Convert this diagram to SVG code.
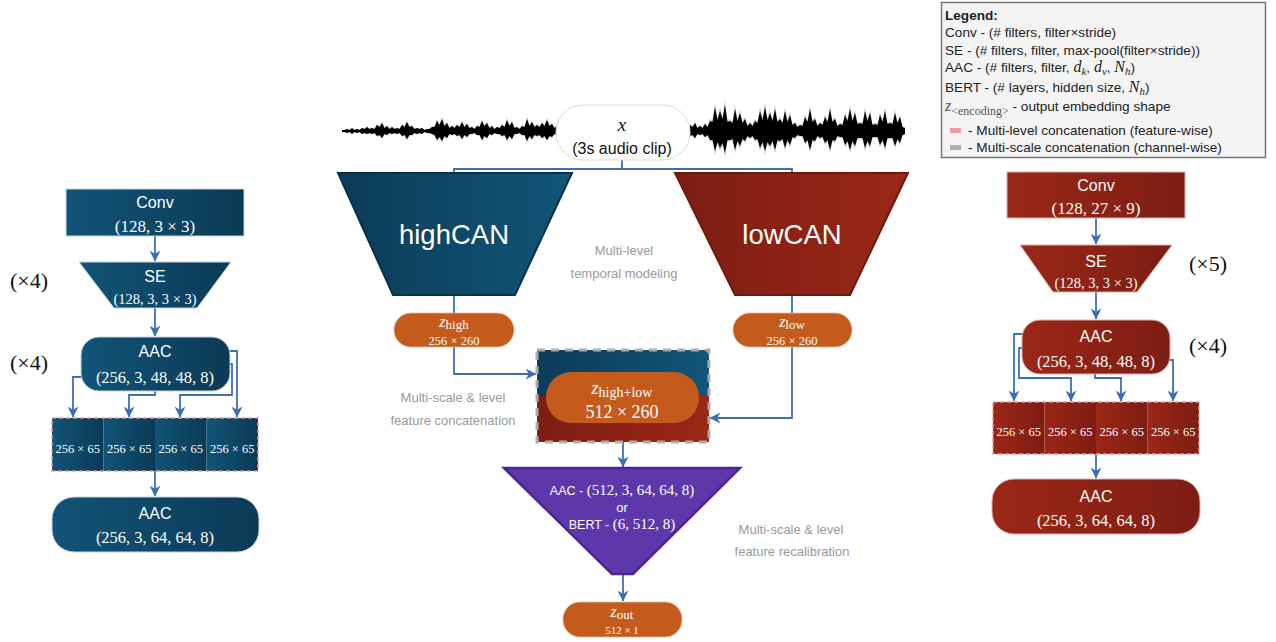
<svg xmlns="http://www.w3.org/2000/svg" width="1276" height="642" viewBox="0 0 1276 642">
<defs>
<linearGradient id="gBlue" x1="0" y1="0" x2="1" y2="0"><stop offset="0" stop-color="#115478"/><stop offset="1" stop-color="#0b3a55"/></linearGradient>
<linearGradient id="gBlueR" x1="0" y1="0" x2="1" y2="0"><stop offset="0" stop-color="#0c3c58"/><stop offset="1" stop-color="#125578"/></linearGradient>
<linearGradient id="gRed" x1="0" y1="0" x2="1" y2="0"><stop offset="0" stop-color="#9b2718"/><stop offset="1" stop-color="#7d1d13"/></linearGradient>
<linearGradient id="gRedR" x1="0" y1="0" x2="1" y2="0"><stop offset="0" stop-color="#7d1d13"/><stop offset="1" stop-color="#9b2718"/></linearGradient>
<marker id="arr" viewBox="0 0 10 10" markerWidth="11" markerHeight="11" refX="9.5" refY="5" orient="auto" markerUnits="userSpaceOnUse"><path d="M0,0 L10,5 L0,10 L3,5 z" fill="#3e6fb5"/></marker>
<style>
.sans{font-family:"Liberation Sans",Arial,sans-serif}
.lab{font-family:"Liberation Sans",Arial,sans-serif;font-size:16px;fill:#fff;text-anchor:middle}
.mt{font-family:"Liberation Serif","Times New Roman",serif;fill:#fff;text-anchor:middle}
.big{font-family:"Liberation Sans",Arial,sans-serif;font-size:27.5px;fill:#fff;text-anchor:middle}
.gray{font-family:"Liberation Sans",Arial,sans-serif;font-size:13px;fill:#9a9a9a;text-anchor:middle}
.rep{font-family:"Liberation Serif","Times New Roman",serif;font-size:22px;fill:#111;text-anchor:middle}
.leg{font-family:"Liberation Sans",Arial,sans-serif;font-size:13.6px;fill:#222}
.lm{font-family:"Liberation Serif","Times New Roman",serif;font-style:italic}
.con{fill:none;stroke:#3e6fb5;stroke-width:1.8}
.ca{fill:none;stroke:#3e6fb5;stroke-width:1.8;marker-end:url(#arr)}
.pill{fill:#c45a1b;stroke:#e7b79a;stroke-width:0.8}
.nb{stroke:#c9d4dc;stroke-width:1}
.nr{stroke:#d9b3ad;stroke-width:1}
.seg{font-family:"Liberation Serif","Times New Roman",serif;font-size:12.5px;fill:#fff;text-anchor:middle}
</style>
</defs>
<rect width="1276" height="642" fill="#fff"/>

<g id="waveform">
<g id="wf" fill="#000">
<path d="M342,130 L344.5,130 L347,129 L349.5,130 L352,128 L354.5,130 L357,129 L359.5,130 L362,128 L364.5,129 L367,127 L369.5,129 L372,128 L374.5,129 L377,125 L379.5,127 L382,123 L384.5,128 L387,126 L389.5,129 L392,127 L394.5,129 L397,128 L399.5,129 L402,125 L404.5,127 L407,122 L409.5,127 L412,126 L414.5,129 L417,128 L419.5,129 L422,128 L424.5,130 L427,129 L429.5,129 L432,127 L434.5,127 L437,121 L439.5,125 L442,119 L444.5,126 L447,123 L449.5,128 L452,126 L454.5,128 L457,125 L459.5,127 L462,122 L464.5,127 L467,124 L469.5,128 L472,127 L474.5,129 L477,126 L479.5,127 L482,121 L484.5,126 L487,123 L489.5,128 L492,126 L494.5,129 L497,127 L499.5,128 L502,125 L504.5,127 L507,120 L509.5,126 L512,122 L514.5,128 L517,127 L519.5,129 L522,126 L524.5,127 L527,119 L529.5,126 L532,122 L534.5,127 L537,125 L539.5,127 L542,123 L544.5,126 L547,120 L549.5,126 L552,124 L554.5,128 L557,126 L557,135 L554.5,134 L552,137 L549.5,136 L547,140 L544.5,136 L542,138 L539.5,135 L537,136 L534.5,135 L532,139 L529.5,136 L527,141 L524.5,135 L522,135 L519.5,133 L517,134 L514.5,134 L512,139 L509.5,136 L507,140 L504.5,135 L502,136 L499.5,134 L497,134 L494.5,133 L492,135 L489.5,134 L487,138 L484.5,136 L482,140 L479.5,135 L477,135 L474.5,133 L472,134 L469.5,134 L467,137 L464.5,135 L462,139 L459.5,135 L457,136 L454.5,134 L452,135 L449.5,134 L447,138 L444.5,136 L442,141 L439.5,137 L437,140 L434.5,135 L432,134 L429.5,133 L427,133 L424.5,132 L422,134 L419.5,133 L417,134 L414.5,133 L412,135 L409.5,135 L407,139 L404.5,135 L402,136 L399.5,133 L397,134 L394.5,133 L392,134 L389.5,133 L387,135 L384.5,134 L382,138 L379.5,135 L377,136 L374.5,133 L372,134 L369.5,133 L367,134 L364.5,133 L362,134 L359.5,132 L357,133 L354.5,132 L352,134 L349.5,132 L347,133 L344.5,132 L342,132 Z"/>
<path d="M690,125 L692.5,127 L695,123 L697.5,128 L700,126 L702.5,128 L705,124 L707.5,127 L710,121 L712.5,122 L715,107 L717.5,120 L720,111 L722.5,119 L725,105 L727.5,122 L730,121 L732.5,123 L735,109 L737.5,121 L740,113 L742.5,123 L745,119 L747.5,126 L750,123 L752.5,126 L755,121 L757.5,123 L760,111 L762.5,120 L765,107 L767.5,120 L770,113 L772.5,121 L775,109 L777.5,122 L780,119 L782.5,123 L785,111 L787.5,122 L790,115 L792.5,125 L795,123 L797.5,127 L800,125 L802.5,126 L805,117 L807.5,122 L810,109 L812.5,122 L815,119 L817.5,126 L820,123 L822.5,125 L825,117 L827.5,122 L830,109 L832.5,122 L835,119 L837.5,126 L840,124 L842.5,125 L845,115 L847.5,121 L850,109 L852.5,121 L855,113 L857.5,124 L860,123 L862.5,124 L865,111 L867.5,121 L870,113 L872.5,125 L875,124 L877.5,125 L880,115 L882.5,122 L885,111 L887.5,124 L890,123 L892.5,124 L895,113 L897.5,123 L900,117 L902.5,127 L905,128 L905,134 L902.5,135 L900,143 L897.5,139 L895,146 L892.5,138 L890,138 L887.5,138 L885,148 L882.5,140 L880,145 L877.5,137 L875,137 L872.5,137 L870,146 L867.5,141 L865,148 L862.5,138 L860,138 L857.5,138 L855,146 L852.5,141 L850,150 L847.5,141 L845,145 L842.5,137 L840,137 L837.5,136 L835,141 L832.5,140 L830,150 L827.5,140 L825,143 L822.5,137 L820,138 L817.5,136 L815,141 L812.5,140 L810,150 L807.5,140 L805,143 L802.5,136 L800,136 L797.5,135 L795,138 L792.5,137 L790,145 L787.5,140 L785,148 L782.5,139 L780,141 L777.5,140 L775,150 L772.5,141 L770,146 L767.5,142 L765,151 L762.5,142 L760,148 L757.5,139 L755,140 L752.5,136 L750,138 L747.5,136 L745,141 L742.5,139 L740,146 L737.5,141 L735,150 L732.5,139 L730,140 L727.5,140 L725,153 L722.5,143 L720,148 L717.5,142 L715,151 L712.5,140 L710,140 L707.5,135 L705,137 L702.5,134 L700,135 L697.5,134 L695,138 L692.5,135 L690,136 Z"/>
</g>
<use href="#wf" transform="translate(0,131) scale(1,1.2) translate(0,-131)" opacity="0.2"/>
</g>

<g id="connectors">
<path class="ca" d="M155,236 V261"/>
<path class="ca" d="M155,308 V336"/>
<path class="ca" d="M83,377 H73 V417"/>
<path class="ca" d="M155,391 V395 H129 V417"/>
<path class="ca" d="M228,364 H232 V395 H180 V417"/>
<path class="ca" d="M226,351 H237 V417"/>
<path class="ca" d="M155,471 V496"/>
<path class="con" d="M622,160 V169 M454,175 V169 H792 V175"/>
<path class="ca" d="M454,295 V374 H536"/>
<path class="ca" d="M792,295 V418 H710"/>
<path class="ca" d="M623,442 V467"/>
<path class="ca" d="M623,574 V601"/>
<path class="ca" d="M1096,218 V244"/>
<path class="ca" d="M1096,292 V319"/>
<path class="ca" d="M1023,334 H1014 V401"/>
<path class="ca" d="M1023,348 H1019 V378 H1071 V401"/>
<path class="ca" d="M1095,374 V378 H1121 V401"/>
<path class="ca" d="M1169,360 H1173 V401"/>
<path class="ca" d="M1096,454 V478"/>
</g>

<g id="input-x">
<rect x="556" y="105" width="134" height="55" rx="27" fill="#fff" stroke="#dcdcdc" stroke-width="1"/>
<text x="622" y="131" class="lm" font-size="19" text-anchor="middle" fill="#111">x</text>
<text x="622" y="154" class="sans" font-size="16" text-anchor="middle" fill="#111">(3s audio clip)</text>
</g>

<g id="highCAN">
<polygon points="338,173 572,173 515,295 393,295" fill="url(#gBlueR)" stroke="#0a3148" stroke-width="2"/>
<text x="454" y="244" class="big">highCAN</text>
</g>
<g id="lowCAN">
<polygon points="675,173 908,173 850,295 735,295" fill="url(#gRedR)" stroke="#6e1910" stroke-width="2"/>
<text x="792" y="244" class="big">lowCAN</text>
</g>

<g id="z-high">
<rect x="394" y="313" width="120" height="34" rx="17" class="pill"/>
<text x="454" y="327" class="mt" font-size="16"><tspan font-style="italic">z</tspan><tspan dy="2" font-size="13">high</tspan></text>
<text x="454" y="345" class="mt" font-size="12.5">256 × 260</text>
</g>
<g id="z-low">
<rect x="733" y="313" width="119" height="34" rx="17" class="pill"/>
<text x="792" y="327" class="mt" font-size="16"><tspan font-style="italic">z</tspan><tspan dy="2" font-size="13">low</tspan></text>
<text x="792" y="345" class="mt" font-size="12.5">256 × 260</text>
</g>

<g id="concat-center">
<rect x="537" y="350" width="172" height="46" fill="url(#gBlueR)"/>
<rect x="537" y="396" width="172" height="46" fill="url(#gRedR)"/>
<rect x="537" y="350" width="172" height="92" fill="none" stroke="#adadad" stroke-width="3" stroke-dasharray="8,6"/>
<rect x="546" y="372" width="153" height="51" rx="25" fill="#c45a1b"/>
<text x="622" y="394" class="mt" font-size="18"><tspan font-style="italic">z</tspan><tspan dy="3" font-size="14">high+low</tspan></text>
<text x="622" y="418" class="mt" font-size="18">512 × 260</text>
</g>

<g id="recalib">
<polygon points="504,468 740,468 633,574 612,574" fill="#5e37aa" stroke="#4a2790" stroke-width="2.5"/>
<text x="622" y="495" text-anchor="middle" fill="#fff"><tspan class="sans" font-size="12.5">AAC - </tspan><tspan class="mt" font-size="15">(512, 3, 64, 64, 8)</tspan></text>
<text x="622" y="512" class="sans" font-size="13" text-anchor="middle" fill="#fff">or</text>
<text x="622" y="529" text-anchor="middle" fill="#fff"><tspan class="sans" font-size="12.5">BERT - </tspan><tspan class="mt" font-size="15">(6, 512, 8)</tspan></text>
</g>

<g id="z-out">
<rect x="563" y="602" width="119" height="35" rx="17" class="pill"/>
<text x="622" y="617" class="mt" font-size="16"><tspan font-style="italic">z</tspan><tspan dy="2" font-size="13">out</tspan></text>
<text x="622" y="634" class="mt" font-size="11">512 × 1</text>
</g>

<g id="labels">
<text x="624" y="255" class="gray">Multi-level</text>
<text x="624" y="278" class="gray">temporal modeling</text>
<text x="453" y="402" class="gray">Multi-scale &amp; level</text>
<text x="453" y="425" class="gray">feature concatenation</text>
<text x="791" y="534" class="gray">Multi-scale &amp; level</text>
<text x="792" y="556" class="gray">feature recalibration</text>
</g>

<g id="left-conv">
<rect x="66" y="189" width="178" height="47" fill="url(#gBlue)" class="nb"/>
<text x="155" y="208" class="lab">Conv</text>
<text x="155" y="232" class="mt" font-size="17">(128, 3 × 3)</text>
</g>
<g id="left-se">
<polygon points="79,262 231,262 197,308 114,308" fill="url(#gBlue)" class="nb"/>
<text x="155" y="282" class="lab">SE</text>
<text x="155" y="304" class="mt" font-size="14.5">(128, 3, 3 × 3)</text>
</g>
<g id="left-aac1">
<rect x="81" y="337" width="149" height="54" rx="18" fill="url(#gBlue)" class="nb"/>
<text x="155" y="357" class="lab">AAC</text>
<text x="155" y="383" class="mt" font-size="16.5">(256, 3, 48, 48, 8)</text>
</g>
<g id="left-concat">
<rect x="52" y="418" width="51.5" height="53" fill="url(#gBlue)"/>
<rect x="103.5" y="418" width="51.5" height="53" fill="url(#gBlue)"/>
<rect x="155" y="418" width="51.5" height="53" fill="url(#gBlue)"/>
<rect x="206.5" y="418" width="51.5" height="53" fill="url(#gBlue)"/>
<rect x="52" y="418" width="206" height="53" fill="none" stroke="#e79a9a" stroke-width="1.5" stroke-dasharray="4,3"/>
<text x="77.75" y="453" class="seg">256 × 65</text>
<text x="129.25" y="453" class="seg">256 × 65</text>
<text x="180.75" y="453" class="seg">256 × 65</text>
<text x="232.25" y="453" class="seg">256 × 65</text>
</g>
<g id="left-aac2">
<rect x="52" y="497" width="207" height="55" rx="22" fill="url(#gBlue)" class="nb"/>
<text x="155" y="519" class="lab">AAC</text>
<text x="155" y="543" class="mt" font-size="16.5">(256, 3, 64, 64, 8)</text>
</g>
<text x="29" y="288" class="rep">(×4)</text>
<text x="29" y="370" class="rep">(×4)</text>

<g id="right-conv">
<rect x="1007" y="172" width="178" height="46" fill="url(#gRed)" class="nr"/>
<text x="1096" y="191" class="lab">Conv</text>
<text x="1096" y="214" class="mt" font-size="17">(128, 27 × 9)</text>
</g>
<g id="right-se">
<polygon points="1020,245 1172,245 1137,292 1053,292" fill="url(#gRed)" class="nr"/>
<text x="1096" y="267" class="lab">SE</text>
<text x="1096" y="288" class="mt" font-size="14.5">(128, 3, 3 × 3)</text>
</g>
<g id="right-aac1">
<rect x="1022" y="320" width="148" height="54" rx="18" fill="url(#gRed)" class="nr"/>
<text x="1096" y="342" class="lab">AAC</text>
<text x="1096" y="367" class="mt" font-size="16.5">(256, 3, 48, 48, 8)</text>
</g>
<g id="right-concat">
<rect x="993" y="402" width="51.5" height="52" fill="url(#gRed)"/>
<rect x="1044.5" y="402" width="51.5" height="52" fill="url(#gRed)"/>
<rect x="1096" y="402" width="51.5" height="52" fill="url(#gRed)"/>
<rect x="1147.5" y="402" width="51.5" height="52" fill="url(#gRed)"/>
<rect x="993" y="402" width="206" height="52" fill="none" stroke="#e79a9a" stroke-width="1.5" stroke-dasharray="4,3"/>
<text x="1018.75" y="436" class="seg">256 × 65</text>
<text x="1070.25" y="436" class="seg">256 × 65</text>
<text x="1121.75" y="436" class="seg">256 × 65</text>
<text x="1173.25" y="436" class="seg">256 × 65</text>
</g>
<g id="right-aac2">
<rect x="992" y="479" width="208" height="55" rx="22" fill="url(#gRed)" class="nr"/>
<text x="1096" y="502" class="lab">AAC</text>
<text x="1096" y="526" class="mt" font-size="16.5">(256, 3, 64, 64, 8)</text>
</g>
<text x="1208" y="271" class="rep">(×5)</text>
<text x="1208" y="353" class="rep">(×4)</text>

<g id="legend">
<rect x="941.5" y="2.5" width="324" height="155" fill="#f4f4f4" stroke="#777" stroke-width="1.5"/>
<text x="945" y="20" class="leg" font-weight="bold" fill="#444">Legend:</text>
<text x="945" y="37" class="leg">Conv - (# filters, filter×stride)</text>
<text x="945" y="55" class="leg">SE - (# filters, filter, max-pool(filter×stride))</text>
<text x="945" y="72" class="leg">AAC - (# filters, filter, <tspan class="lm" font-size="16">d</tspan><tspan class="lm" font-size="11" dy="3">k</tspan><tspan dy="-3">, </tspan><tspan class="lm" font-size="16">d</tspan><tspan class="lm" font-size="11" dy="3">v</tspan><tspan dy="-3">, </tspan><tspan class="lm" font-size="16">N</tspan><tspan class="lm" font-size="11" dy="3">h</tspan><tspan dy="-3">)</tspan></text>
<text x="945" y="92" class="leg">BERT - (# layers, hidden size, <tspan class="lm" font-size="16">N</tspan><tspan class="lm" font-size="11" dy="3">h</tspan><tspan dy="-3">)</tspan></text>
<text x="945" y="111" class="leg"><tspan class="lm" font-size="16" fill="#555">z</tspan><tspan font-family="Liberation Serif,serif" font-size="12" dy="4" fill="#555">&lt;encoding&gt;</tspan><tspan dy="-4"> - output embedding shape</tspan></text>
<rect x="950" y="128" width="11" height="5" fill="#f09a9a"/>
<text x="968" y="135" class="leg">- Multi-level concatenation (feature-wise)</text>
<rect x="950" y="145" width="11" height="5" fill="#b0b0b0"/>
<text x="968" y="152" class="leg">- Multi-scale concatenation (channel-wise)</text>
</g>
</svg>
